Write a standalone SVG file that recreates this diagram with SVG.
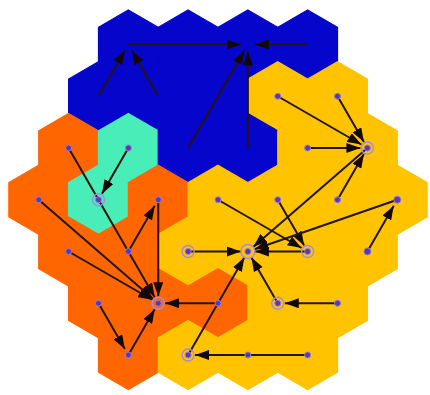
<svg xmlns="http://www.w3.org/2000/svg" xmlns:xlink="http://www.w3.org/1999/xlink" width="430" height="395" viewBox="0 0 430 395">
<defs>
<polygon id="hex" points="0,-34.5 29.88,-17.25 29.88,17.25 0,34.5 -29.88,17.25 -29.88,-17.25"/>
<marker id="ah" markerWidth="15" markerHeight="10" refX="14" refY="5" orient="auto" markerUnits="userSpaceOnUse">
<path d="M0,0 L14,5 L0,10 z" fill="#120808"/>
</marker>
</defs>
<style>
.b{fill:#0505CC;stroke:#0505CC;stroke-width:1.2}
.o{fill:#FF6600;stroke:#FF6600;stroke-width:1.2}
.t{fill:#48EDB8;stroke:#48EDB8;stroke-width:1.2}
.y{fill:#FFC300;stroke:#FFC300;stroke-width:1.2}
.c line{stroke:#241410;stroke-width:2;marker-end:url(#ah)}
.d{fill:#5a3aa8;stroke:#9a7ae0;stroke-width:1}
.r{fill:none;stroke:#a88ae0;stroke-width:1.4}
</style>
<rect width="430" height="395" fill="#ffffff"/>
<g id="cells">
<use xlink:href="#hex" class="b" x="128.36" y="44.5"/>
<use xlink:href="#hex" class="b" x="188.12" y="44.5"/>
<use xlink:href="#hex" class="b" x="247.88" y="44.5"/>
<use xlink:href="#hex" class="b" x="307.64" y="44.5"/>
<use xlink:href="#hex" class="b" x="98.48" y="96.25"/>
<use xlink:href="#hex" class="b" x="158.24" y="96.25"/>
<use xlink:href="#hex" class="b" x="218" y="96.25"/>
<use xlink:href="#hex" class="y" x="277.76" y="96.25"/>
<use xlink:href="#hex" class="y" x="337.52" y="96.25"/>
<use xlink:href="#hex" class="o" x="68.6" y="148"/>
<use xlink:href="#hex" class="t" x="128.36" y="148"/>
<use xlink:href="#hex" class="b" x="188.12" y="148"/>
<use xlink:href="#hex" class="b" x="247.88" y="148"/>
<use xlink:href="#hex" class="y" x="307.64" y="148"/>
<use xlink:href="#hex" class="y" x="367.4" y="148"/>
<use xlink:href="#hex" class="o" x="38.72" y="199.75"/>
<use xlink:href="#hex" class="t" x="98.48" y="199.75"/>
<use xlink:href="#hex" class="o" x="158.24" y="199.75"/>
<use xlink:href="#hex" class="y" x="218" y="199.75"/>
<use xlink:href="#hex" class="y" x="277.76" y="199.75"/>
<use xlink:href="#hex" class="y" x="337.52" y="199.75"/>
<use xlink:href="#hex" class="y" x="397.28" y="199.75"/>
<use xlink:href="#hex" class="o" x="68.6" y="251.5"/>
<use xlink:href="#hex" class="o" x="128.36" y="251.5"/>
<use xlink:href="#hex" class="y" x="188.12" y="251.5"/>
<use xlink:href="#hex" class="y" x="247.88" y="251.5"/>
<use xlink:href="#hex" class="y" x="307.64" y="251.5"/>
<use xlink:href="#hex" class="y" x="367.4" y="251.5"/>
<use xlink:href="#hex" class="o" x="98.48" y="303.25"/>
<use xlink:href="#hex" class="o" x="158.24" y="303.25"/>
<use xlink:href="#hex" class="o" x="218" y="303.25"/>
<use xlink:href="#hex" class="y" x="277.76" y="303.25"/>
<use xlink:href="#hex" class="y" x="337.52" y="303.25"/>
<use xlink:href="#hex" class="o" x="128.36" y="355"/>
<use xlink:href="#hex" class="y" x="188.12" y="355"/>
<use xlink:href="#hex" class="y" x="247.88" y="355"/>
<use xlink:href="#hex" class="y" x="307.64" y="355"/>
</g>
<g id="connectors" class="c">
<line x1="98.48" y1="96.25" x2="124.86" y2="50.56"/>
<line x1="158.24" y1="96.25" x2="131.86" y2="50.56"/>
<line x1="128.36" y1="44.5" x2="240.88" y2="44.5"/>
<line x1="307.64" y1="44.5" x2="254.88" y2="44.5"/>
<line x1="188.12" y1="148" x2="244.38" y2="50.56"/>
<line x1="247.88" y1="148" x2="247.88" y2="51.5"/>
<line x1="128.36" y1="148" x2="101.98" y2="193.69"/>
<line x1="68.6" y1="148" x2="154.74" y2="297.19"/>
<line x1="38.72" y1="199.75" x2="152.95" y2="298.67"/>
<line x1="68.6" y1="251.5" x2="152.18" y2="299.75"/>
<line x1="128.36" y1="251.5" x2="154.74" y2="205.81"/>
<line x1="158.24" y1="199.75" x2="158.24" y2="296.25"/>
<line x1="98.48" y1="303.25" x2="124.86" y2="348.94"/>
<line x1="128.36" y1="355" x2="154.74" y2="309.31"/>
<line x1="218" y1="303.25" x2="165.24" y2="303.25"/>
<line x1="277.76" y1="96.25" x2="361.34" y2="144.5"/>
<line x1="337.52" y1="96.25" x2="363.9" y2="141.94"/>
<line x1="307.64" y1="148" x2="360.4" y2="148"/>
<line x1="337.52" y1="199.75" x2="363.9" y2="154.06"/>
<line x1="367.4" y1="148" x2="253.17" y2="246.92"/>
<line x1="188.12" y1="251.5" x2="240.88" y2="251.5"/>
<line x1="307.64" y1="251.5" x2="254.88" y2="251.5"/>
<line x1="218" y1="199.75" x2="301.58" y2="248"/>
<line x1="277.76" y1="199.75" x2="304.14" y2="245.44"/>
<line x1="397.28" y1="199.75" x2="254.49" y2="249.21"/>
<line x1="367.4" y1="251.5" x2="393.78" y2="205.81"/>
<line x1="188.12" y1="355" x2="244.38" y2="257.56"/>
<line x1="277.76" y1="303.25" x2="251.38" y2="257.56"/>
<line x1="337.52" y1="303.25" x2="284.76" y2="303.25"/>
<line x1="307.64" y1="355" x2="195.12" y2="355"/>
</g>
<g id="n-teal-1"><circle class="d" cx="128.36" cy="148" r="3"/></g>
<g id="n-teal-root"><circle class="r" cx="98.48" cy="199.75" r="6"/><circle class="d" cx="98.48" cy="199.75" r="3"/></g>
<g id="n-o1"><circle class="d" cx="68.6" cy="148" r="3"/></g>
<g id="n-o2"><circle class="d" cx="38.72" cy="199.75" r="3"/></g>
<g id="n-o3"><circle class="d" cx="158.24" cy="199.75" r="3"/></g>
<g id="n-o4"><circle class="d" cx="68.6" cy="251.5" r="3"/></g>
<g id="n-o5"><circle class="d" cx="128.36" cy="251.5" r="3"/></g>
<g id="n-o6"><circle class="d" cx="98.48" cy="303.25" r="3"/></g>
<g id="n-o-root"><circle class="r" cx="158.24" cy="303.25" r="6"/><circle class="d" cx="158.24" cy="303.25" r="3"/></g>
<g id="n-o7"><circle class="d" cx="218" cy="303.25" r="3"/></g>
<g id="n-o8"><circle class="d" cx="128.36" cy="355" r="3"/></g>
<g id="n-y1"><circle class="d" cx="277.76" cy="96.25" r="3"/></g>
<g id="n-y2"><circle class="d" cx="337.52" cy="96.25" r="3"/></g>
<g id="n-y3"><circle class="d" cx="307.64" cy="148" r="3"/></g>
<g id="n-y4"><circle class="r" cx="367.4" cy="148" r="6"/><circle class="d" cx="367.4" cy="148" r="3"/></g>
<g id="n-y5"><circle class="d" cx="218" cy="199.75" r="3"/></g>
<g id="n-y6"><circle class="d" cx="277.76" cy="199.75" r="3"/></g>
<g id="n-y7"><circle class="d" cx="337.52" cy="199.75" r="3"/></g>
<g id="n-y8"><circle class="d" cx="397.28" cy="199.75" r="3.5"/></g>
<g id="n-y9"><circle class="r" cx="188.12" cy="251.5" r="6"/><circle class="d" cx="188.12" cy="251.5" r="3"/></g>
<g id="n-y-root"><circle class="r" cx="247.88" cy="251.5" r="7"/><circle class="d" cx="247.88" cy="251.5" r="3"/></g>
<g id="n-y10"><circle class="r" cx="307.64" cy="251.5" r="6"/><circle class="d" cx="307.64" cy="251.5" r="3"/></g>
<g id="n-y11"><circle class="d" cx="367.4" cy="251.5" r="3.5"/></g>
<g id="n-y12"><circle class="r" cx="277.76" cy="303.25" r="6"/><circle class="d" cx="277.76" cy="303.25" r="3"/></g>
<g id="n-y13"><circle class="d" cx="337.52" cy="303.25" r="3"/></g>
<g id="n-y14"><circle class="r" cx="188.12" cy="355" r="6"/><circle class="d" cx="188.12" cy="355" r="3"/></g>
<g id="n-y15"><circle class="d" cx="247.88" cy="355" r="3"/></g>
<g id="n-y16"><circle class="d" cx="307.64" cy="355" r="3"/></g>
</svg>
